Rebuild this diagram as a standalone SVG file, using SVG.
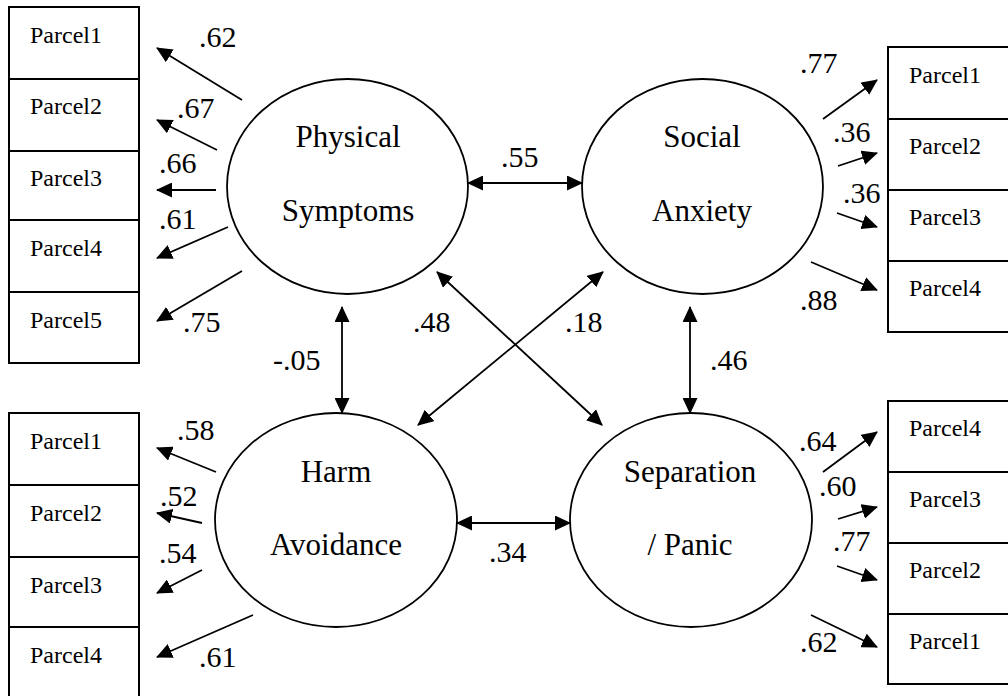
<svg xmlns="http://www.w3.org/2000/svg" width="1008" height="696" viewBox="0 0 1008 696">
<style>
.box{fill:#fff;stroke:#000;stroke-width:2}
.lat{fill:#fff;stroke:#000;stroke-width:1.8}
text{font-family:'Liberation Serif','Times New Roman','Nimbus Roman','Nimbus Roman No9 L',FreeSerif,Tinos,'Noto Serif','DejaVu Serif',Georgia,serif;fill:#000}
.pt{font-size:24px}
.lt{font-size:31px;text-anchor:middle}
.cf{font-size:30px}
.ar{fill:none;stroke:#000;stroke-width:1.8;marker-end:url(#ah)}
.dr{fill:none;stroke:#000;stroke-width:1.8;marker-start:url(#ah);marker-end:url(#ah)}
</style>
<defs>
<marker id="ah" viewBox="0 0 16 15" refX="15" refY="7.5" markerWidth="16" markerHeight="15" markerUnits="userSpaceOnUse" orient="auto-start-reverse">
<path d="M0,0 L16,7.5 L0,15 z" fill="#000"/>
</marker>
</defs>
<rect width="1008" height="696" fill="#fff"/>

<g id="ps-indicators">
<rect class="box" x="9" y="7" width="130" height="72"/>
<rect class="box" x="9" y="79" width="130" height="72"/>
<rect class="box" x="9" y="151" width="130" height="69"/>
<rect class="box" x="9" y="220" width="130" height="72"/>
<rect class="box" x="9" y="292" width="130" height="71"/>
<text class="pt" x="30" y="43">Parcel1</text>
<text class="pt" x="30" y="114">Parcel2</text>
<text class="pt" x="30" y="186">Parcel3</text>
<text class="pt" x="30" y="256">Parcel4</text>
<text class="pt" x="30" y="328">Parcel5</text>
</g>

<g id="sa-indicators">
<rect class="box" x="888" y="47" width="130" height="72"/>
<rect class="box" x="888" y="119" width="130" height="71"/>
<rect class="box" x="888" y="190" width="130" height="71"/>
<rect class="box" x="888" y="261" width="130" height="71"/>
<text class="pt" x="909" y="83">Parcel1</text>
<text class="pt" x="909" y="154">Parcel2</text>
<text class="pt" x="909" y="225">Parcel3</text>
<text class="pt" x="909" y="296">Parcel4</text>
</g>

<g id="ha-indicators">
<rect class="box" x="9" y="413" width="130" height="72"/>
<rect class="box" x="9" y="485" width="130" height="72"/>
<rect class="box" x="9" y="557" width="130" height="70"/>
<rect class="box" x="9" y="627" width="130" height="72"/>
<text class="pt" x="30" y="449">Parcel1</text>
<text class="pt" x="30" y="521">Parcel2</text>
<text class="pt" x="30" y="593">Parcel3</text>
<text class="pt" x="30" y="663">Parcel4</text>
</g>

<g id="sp-indicators">
<rect class="box" x="888" y="401" width="130" height="71"/>
<rect class="box" x="888" y="472" width="130" height="71"/>
<rect class="box" x="888" y="543" width="130" height="71"/>
<rect class="box" x="888" y="614" width="130" height="70"/>
<text class="pt" x="909" y="436">Parcel4</text>
<text class="pt" x="909" y="507">Parcel3</text>
<text class="pt" x="909" y="578">Parcel2</text>
<text class="pt" x="909" y="649">Parcel1</text>
</g>

<g id="physical-symptoms">
<ellipse class="lat" cx="347.5" cy="186.5" rx="120.5" ry="107.5"/>
<text class="lt" x="348" y="147">Physical</text>
<text class="lt" x="348" y="221">Symptoms</text>
</g>
<g id="social-anxiety">
<ellipse class="lat" cx="702.5" cy="186.5" rx="120.5" ry="107.5"/>
<text class="lt" x="702" y="147">Social</text>
<text class="lt" x="702" y="221">Anxiety</text>
</g>
<g id="harm-avoidance">
<ellipse class="lat" cx="336" cy="520" rx="121" ry="107"/>
<text class="lt" x="336" y="482">Harm</text>
<text class="lt" x="336" y="555">Avoidance</text>
</g>
<g id="separation-panic">
<ellipse class="lat" cx="691" cy="520" rx="121" ry="107"/>
<text class="lt" x="690" y="482">Separation</text>
<text class="lt" x="690" y="555">/ Panic</text>
</g>

<g id="connectors">
<line class="ar" x1="242" y1="100" x2="157" y2="48"/>
<line class="ar" x1="217" y1="150" x2="157" y2="120"/>
<line class="ar" x1="216" y1="190" x2="157" y2="190"/>
<line class="ar" x1="228" y1="227" x2="157" y2="258"/>
<line class="ar" x1="242" y1="271" x2="157" y2="321"/>

<line class="ar" x1="823" y1="119" x2="877" y2="80"/>
<line class="ar" x1="838" y1="166" x2="877" y2="153"/>
<line class="ar" x1="837" y1="213" x2="877" y2="227"/>
<line class="ar" x1="811" y1="262" x2="877" y2="290"/>

<line class="ar" x1="216" y1="472" x2="157" y2="448"/>
<line class="ar" x1="202" y1="523" x2="157" y2="513"/>
<line class="ar" x1="202" y1="570" x2="157" y2="593"/>
<line class="ar" x1="253" y1="615" x2="157" y2="657"/>

<line class="ar" x1="823" y1="472" x2="877" y2="432"/>
<line class="ar" x1="838" y1="519" x2="877" y2="507"/>
<line class="ar" x1="837" y1="566" x2="877" y2="580"/>
<line class="ar" x1="811" y1="615" x2="877" y2="647"/>

<line class="dr" x1="468" y1="183" x2="582" y2="183"/>
<line class="dr" x1="457" y1="523" x2="570" y2="523"/>
<line class="dr" x1="342" y1="307" x2="342" y2="413"/>
<line class="dr" x1="690" y1="307" x2="690" y2="413"/>
<line class="dr" x1="437" y1="272" x2="602" y2="425"/>
<line class="dr" x1="603" y1="272" x2="418" y2="425"/>
</g>

<g id="coefficients">
<text class="cf" x="199" y="47">.62</text>
<text class="cf" x="177" y="118">.67</text>
<text class="cf" x="159" y="173">.66</text>
<text class="cf" x="159" y="229">.61</text>
<text class="cf" x="183" y="332">.75</text>
<text class="cf" x="800" y="73">.77</text>
<text class="cf" x="833" y="142">.36</text>
<text class="cf" x="843" y="203">.36</text>
<text class="cf" x="800" y="310">.88</text>
<text class="cf" x="177" y="440">.58</text>
<text class="cf" x="160" y="506">.52</text>
<text class="cf" x="159" y="563">.54</text>
<text class="cf" x="199" y="667">.61</text>
<text class="cf" x="799" y="451">.64</text>
<text class="cf" x="819" y="496">.60</text>
<text class="cf" x="833" y="551">.77</text>
<text class="cf" x="800" y="652">.62</text>
<text class="cf" x="501" y="167">.55</text>
<text class="cf" x="489" y="562">.34</text>
<text class="cf" x="273" y="370">-.05</text>
<text class="cf" x="710" y="370">.46</text>
<text class="cf" x="413" y="332">.48</text>
<text class="cf" x="565" y="332">.18</text>
</g>
</svg>
